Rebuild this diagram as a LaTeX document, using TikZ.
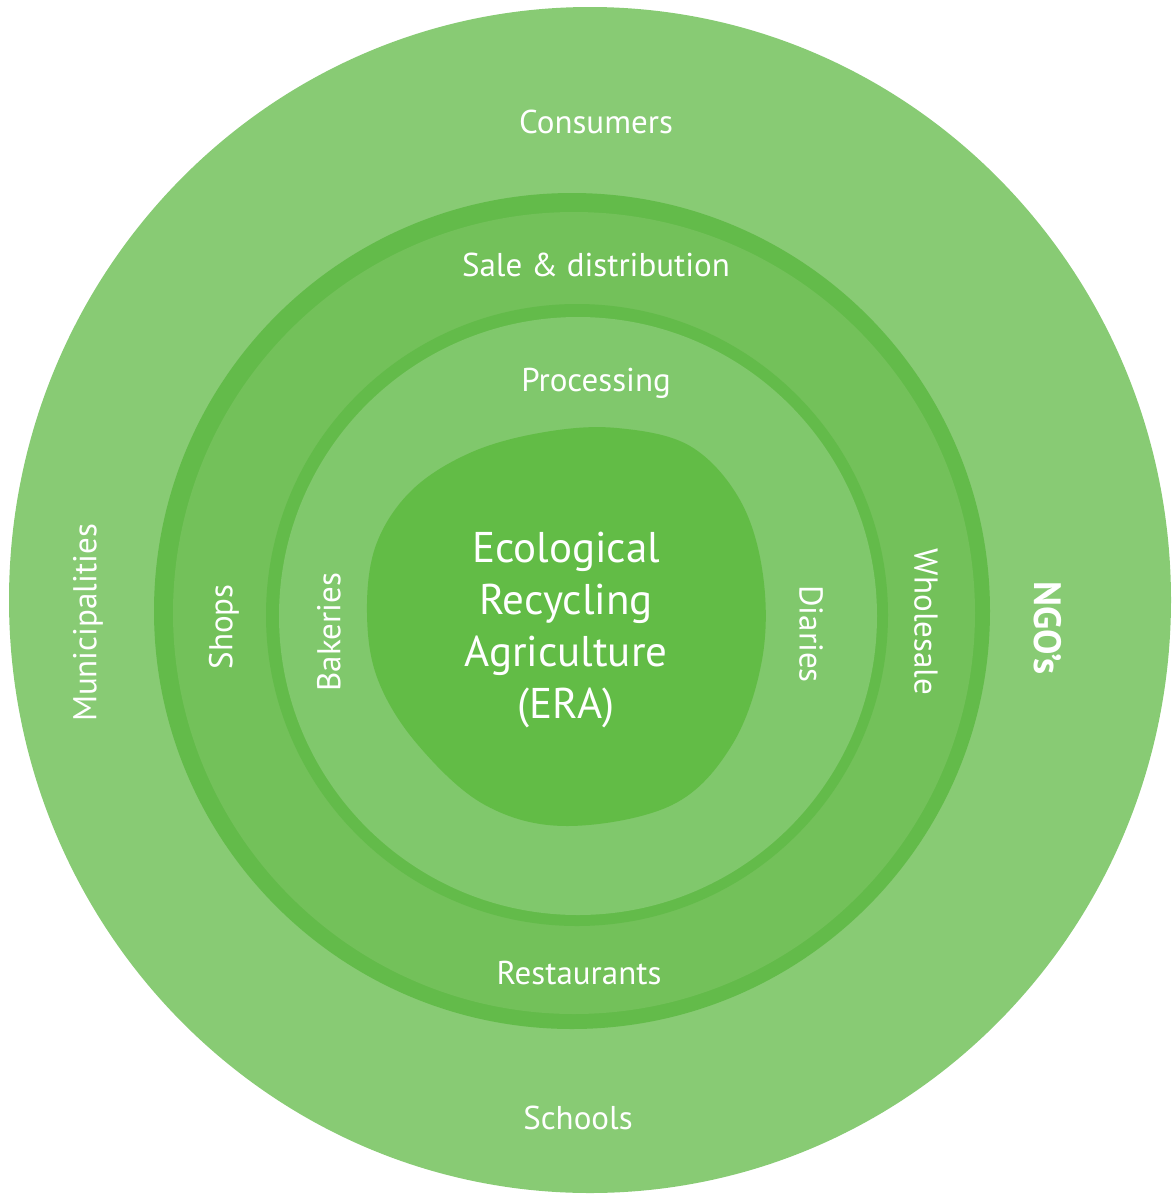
\documentclass[tikz,border=0pt]{standalone}
\usepackage{fontspec}
\setmainfont{PT Sans}
\definecolor{outergreen}{HTML}{88CB74}
\definecolor{salegreen}{HTML}{73C15A}
\definecolor{bandgreen}{HTML}{63BB4A}
\definecolor{procgreen}{HTML}{80C86C}
\definecolor{eragreen}{HTML}{62BC46}
\tikzset{
    lbl/.style={text=white, font=\fontsize{33}{36}\selectfont, inner sep=0pt},
    eralbl/.style={text=white, font=\fontsize{43}{52}\selectfont, align=center, inner sep=0pt}
}
\begin{document}
\begin{tikzpicture}[x=1pt, y=-1pt]
    \useasboundingbox (0,0) rectangle (1172,1195);
    % rings
    \fill[outergreen] (590,600) ellipse [x radius=581, y radius=593];
    \fill[bandgreen] (572,611) circle [radius=418];
    \fill[salegreen] (574,613) circle [radius=401];
    \fill[bandgreen] (577,615) circle [radius=311];
    \fill[procgreen] (578,616) circle [radius=299];
    % core
    \fill[eragreen] plot[smooth cycle, tension=0.6] coordinates {
        (367,613) (376,545) (412,490) (472,452) (545,432) (617,428)
        (690,446) (740,500) (763,575) (762,660) (732,745) (672,805)
        (567,826) (485,805) (418,745) (378,680)};
    % labels
    \node[lbl] (consumers) at (596,122) {Consumers};
    \node[lbl] (sale) at (596,265) {Sale \& distribution};
    \node[lbl] (processing) at (596,383) {Processing};
    \node[eralbl] (era) at (566,630) {Ecological\\Recycling\\Agriculture\\(ERA)};
    \node[lbl] (restaurants) at (579,973) {Restaurants};
    \node[lbl] (schools) at (578,1118) {Schools};
    \node[lbl, rotate=90] (municipalities) at (88,623) {Municipalities};
    \node[lbl, rotate=90] (shops) at (224,627) {Shops};
    \node[lbl, rotate=90] (bakeries) at (329,632) {Bakeries};
    \node[lbl, rotate=-90] (diaries) at (811,634) {Diaries};
    \node[lbl, rotate=-90] (wholesale) at (926,622) {Wholesale};
    \node[lbl, rotate=-90, font=\fontsize{38}{40}\selectfont\bfseries] (ngos) at (1048,628) {NGO’s};
\end{tikzpicture}
\end{document}
